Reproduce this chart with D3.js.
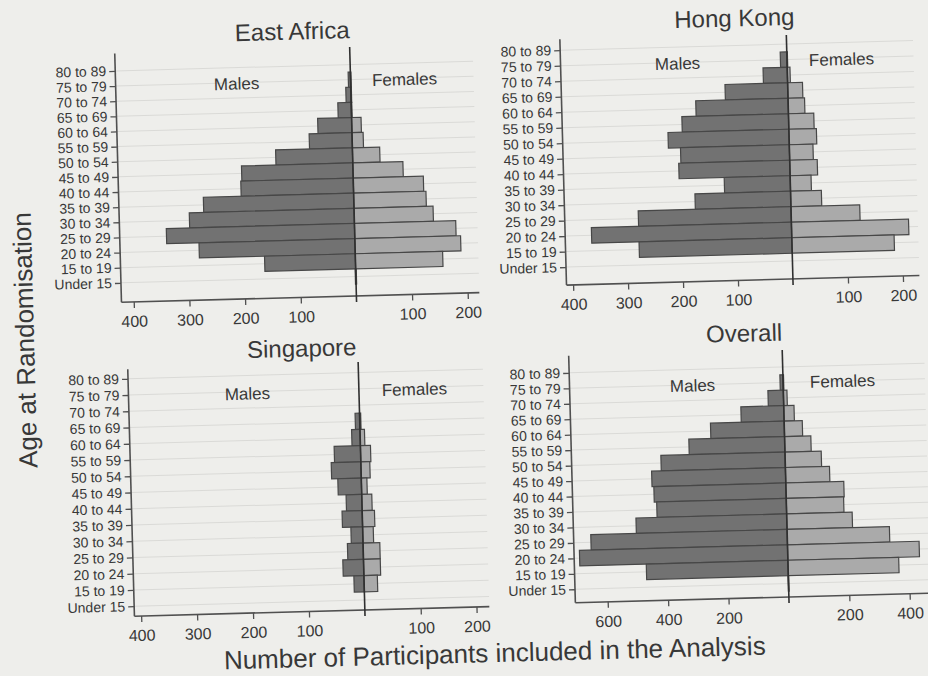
<!DOCTYPE html>
<html>
<head>
<meta charset="utf-8">
<script src="https://cdn.jsdelivr.net/npm/d3@7"></script>
<style>
  html, body { margin: 0; padding: 0; background: #eeeeeb; }
  svg { display: block; }
  text { font-family: "Liberation Sans", Arial, sans-serif; fill: #383838; }
</style>
</head>
<body>
<svg id="chart" width="928" height="676"></svg>
<script>
// ---- Data ----
const ageGroups = ["80 to 89","75 to 79","70 to 74","65 to 69","60 to 64","55 to 59","50 to 54",
                   "45 to 49","40 to 44","35 to 39","30 to 34","25 to 29","20 to 24","15 to 19","Under 15"];

const eastAfricaMales   = [0, 4, 9, 24, 61, 77, 138, 200, 202, 270, 296, 338, 280, 163, 1];
const eastAfricaFemales = [0, 1, 1, 1, 17, 20, 49, 90, 126, 130, 142, 182, 190, 157, 1];

const hongKongMales     = [0, 12, 44, 114, 168, 194, 220, 198, 202, 120, 174, 278, 364, 278, 0];
const hongKongFemales   = [0, 1, 5, 27, 30, 46, 50, 43, 50, 38, 56, 125, 213, 186, 0];

const singaporeMales    = [0, 0, 0, 8, 15, 47, 53, 42, 28, 36, 21, 28, 37, 18, 0];
const singaporeFemales  = [0, 0, 0, 2, 8, 18, 16, 10, 18, 22, 19, 30, 30, 24, 0];

const overallMales      = [0, 10, 51, 142, 244, 317, 411, 443, 437, 429, 499, 650, 689, 469, 1];
const overallFemales    = [0, 2, 12, 34, 60, 87, 120, 146, 192, 190, 217, 339, 436, 367, 1];

const smallLeftTicks  = [400, 300, 200, 100];
const smallRightTicks = [100, 200];
const overallLeftTicks  = [600, 400, 200];
const overallRightTicks = [200, 400];

const panelTitles = ["East Africa", "Hong Kong", "Singapore", "Overall"];
const sexLabels = ["Males", "Females"];
const yAxisTitle = "Age at Randomisation";
const xAxisTitle = "Number of Participants included in the Analysis";

// ---- Layout (the reference is a slightly rotated photograph) ----
const tilt = -1.55;
const panels = [
  { title: panelTitles[0], males: eastAfricaMales, females: eastAfricaFemales,
    lt: smallLeftTicks, rt: smallRightTicks, leftMax: 422, rightMax: 221,
    axisX: 118, cx: 353, rightEnd: 476, yTop: 64.5, yBot: 276.5, axisTop: 47, axisY: 296,
    lineTop: 47, titleX: 296, titleY: 38, mX: 239, mY: 86.5, fX: 407, fY: 86.5 },
  { title: panelTitles[1], males: hongKongMales, females: hongKongFemales,
    lt: smallLeftTicks, rt: smallRightTicks, leftMax: 412, rightMax: 230,
    axisX: 563, cx: 789.5, rightEnd: 916, yTop: 44, yBot: 261, axisTop: 33, axisY: 279,
    lineTop: 35, titleX: 738, titleY: 25, mX: 680, mY: 66.5, fX: 844, fY: 66.5 },
  { title: panelTitles[2], males: singaporeMales, females: singaporeFemales,
    lt: smallLeftTicks, rt: smallRightTicks, leftMax: 412, rightMax: 223,
    axisX: 131, cx: 361.5, rightEnd: 486, yTop: 372.5, yBot: 600, axisTop: 363, axisY: 610,
    lineTop: 362, titleX: 305.5, titleY: 355, mX: 250, mY: 396.5, fX: 417, fY: 396.5 },
  { title: panelTitles[3], males: overallMales, females: overallFemales,
    lt: overallLeftTicks, rt: overallRightTicks, leftMax: 707, rightMax: 470,
    axisX: 572, cx: 785.6, rightEnd: 927.5, yTop: 367, yBot: 583.5, axisTop: 350, axisY: 597,
    lineTop: 350, titleX: 748, titleY: 340.5, mX: 695, mY: 389, fX: 845, fY: 388.5 }
];

const svg = d3.select("#chart");
svg.append("rect").attr("width", 928).attr("height", 676).attr("fill", "#eeeeeb");

const maleFill = "#727272", femaleFill = "#aaaaaa", barStroke = "#474747", axisColor = "#505050";
const font = "Liberation Sans, Arial, sans-serif";

panels.forEach(p => {
  const rcy = (p.yTop + p.yBot) / 2;
  const g = svg.append("g").attr("transform", `rotate(${tilt},${p.cx},${rcy})`);
  const xM = d3.scaleLinear().domain([0, p.leftMax]).range([p.cx, p.axisX]);
  const xF = d3.scaleLinear().domain([0, p.rightMax]).range([p.cx, p.rightEnd]);
  const y = d3.scalePoint().domain(ageGroups).range([p.yTop, p.yBot]);
  const step = y.step();

  // faint grid lines
  g.selectAll("line.grid").data(ageGroups).join("line")
    .attr("x1", p.axisX).attr("x2", p.rightEnd)
    .attr("y1", d => y(d)).attr("y2", d => y(d))
    .attr("stroke", "#dadad7").attr("stroke-width", 1);

  const rows = ageGroups.map((a, i) => ({ age: a, m: p.males[i], f: p.females[i] }));

  g.selectAll("rect.m").data(rows.filter(d => d.m > 0)).join("rect")
    .attr("x", d => xM(d.m)).attr("width", d => xM(0) - xM(d.m))
    .attr("y", d => y(d.age) - step / 2).attr("height", step)
    .attr("fill", maleFill).attr("stroke", barStroke).attr("stroke-width", 1.2);

  g.selectAll("rect.f").data(rows.filter(d => d.f > 0)).join("rect")
    .attr("x", xF(0)).attr("width", d => xF(d.f) - xF(0))
    .attr("y", d => y(d.age) - step / 2).attr("height", step)
    .attr("fill", femaleFill).attr("stroke", barStroke).attr("stroke-width", 1.2);

  // y axis
  const ya = g.append("g").attr("transform", `translate(${p.axisX},0)`)
    .call(d3.axisLeft(y).tickSize(6).tickPadding(3));
  ya.select(".domain").remove();
  ya.selectAll("line").attr("stroke", axisColor).attr("stroke-width", 1.3);
  ya.selectAll("text").attr("font-size", 14).attr("fill", "#383838").attr("font-family", font);
  g.append("line").attr("x1", p.axisX).attr("x2", p.axisX)
    .attr("y1", p.axisTop).attr("y2", p.axisY)
    .attr("stroke", axisColor).attr("stroke-width", 1.6);

  // x axis line
  g.append("line").attr("x1", p.axisX).attr("x2", p.rightEnd)
    .attr("y1", p.axisY).attr("y2", p.axisY)
    .attr("stroke", axisColor).attr("stroke-width", 1.6);

  const xaL = g.append("g").attr("transform", `translate(0,${p.axisY})`)
    .call(d3.axisBottom(xM).tickValues(p.lt).tickSize(6).tickPadding(7.6).tickFormat(d3.format("d")));
  const xaR = g.append("g").attr("transform", `translate(0,${p.axisY})`)
    .call(d3.axisBottom(xF).tickValues(p.rt).tickSize(6).tickPadding(7.6).tickFormat(d3.format("d")));
  [xaL, xaR].forEach(a => {
    a.select(".domain").remove();
    a.selectAll("line").attr("stroke", axisColor).attr("stroke-width", 1.3);
    a.selectAll("text").attr("font-size", 16).attr("fill", "#383838").attr("font-family", font);
  });

  // centre line
  g.append("line").attr("x1", p.cx).attr("x2", p.cx)
    .attr("y1", p.lineTop).attr("y2", p.axisY + 6)
    .attr("stroke", "#303030").attr("stroke-width", 1.6);

  g.append("text").attr("x", p.titleX).attr("y", p.titleY).attr("text-anchor", "middle")
    .attr("font-size", 24).text(p.title);
  g.append("text").attr("x", p.mX).attr("y", p.mY).attr("text-anchor", "middle")
    .attr("font-size", 17).text(sexLabels[0]);
  g.append("text").attr("x", p.fX).attr("y", p.fY).attr("text-anchor", "middle")
    .attr("font-size", 17).text(sexLabels[1]);
});

svg.append("text").attr("transform", `translate(34,340) rotate(${-90 + tilt})`)
  .attr("text-anchor", "middle").attr("font-size", 26).text(yAxisTitle);
svg.append("text").attr("transform", `translate(495,662) rotate(${tilt})`)
  .attr("text-anchor", "middle").attr("font-size", 26).text(xAxisTitle);
</script>
</body>
</html>
